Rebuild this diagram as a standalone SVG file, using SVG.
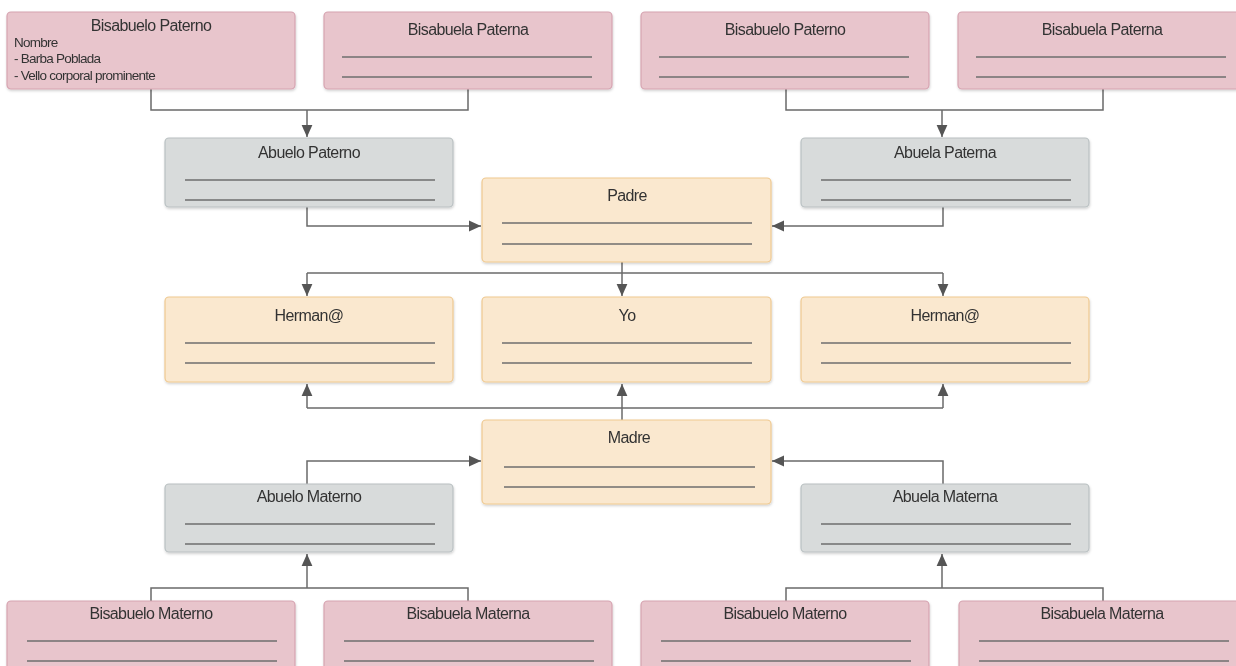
<svg xmlns="http://www.w3.org/2000/svg" width="1236" height="666" viewBox="0 0 1236 666">
<defs>
<style>
.pink{fill:#e8c5cc;stroke:#d6a3b0;stroke-width:1.2}
.gray{fill:#d8dbdb;stroke:#b9c0c2;stroke-width:1.2}
.peach{fill:#fae8cf;stroke:#efc990;stroke-width:1.2}
.t{font-family:"Liberation Sans",Arial,sans-serif;font-size:16px;fill:#333;text-anchor:middle;letter-spacing:-0.6px}
.s{font-family:"Liberation Sans",Arial,sans-serif;font-size:13.5px;fill:#333;letter-spacing:-0.75px}
.ln{stroke:#6e6e6e;stroke-width:1.3}
.c{fill:none;stroke:#6a6a6a;stroke-width:1.5}
</style>
<marker id="a" viewBox="0 0 10 10" refX="10" refY="5" markerWidth="12" markerHeight="12" markerUnits="userSpaceOnUse" orient="auto">
<path d="M0,0.5 L10,5 L0,9.5 z" fill="#555"/>
</marker>
<filter id="sh" x="-5%" y="-10%" width="110%" height="130%">
<feDropShadow dx="0.5" dy="1.5" stdDeviation="0.8" flood-color="#000" flood-opacity="0.18"/>
</filter>
</defs>
<rect width="1236" height="666" fill="#fff"/>

<g id="connectors">
<path class="c" d="M151,89 V110 H468 V89"/>
<path class="c" d="M307,110 V137" marker-end="url(#a)"/>
<path class="c" d="M786,89 V110 H1103 V89"/>
<path class="c" d="M942,110 V137" marker-end="url(#a)"/>
<path class="c" d="M307,207 V226 H481" marker-end="url(#a)"/>
<path class="c" d="M943,207 V226 H772" marker-end="url(#a)"/>
<path class="c" d="M622,262 V273"/>
<path class="c" d="M307,273 H943"/>
<path class="c" d="M307,273 V296" marker-end="url(#a)"/>
<path class="c" d="M622,273 V296" marker-end="url(#a)"/>
<path class="c" d="M943,273 V296" marker-end="url(#a)"/>
<path class="c" d="M307,408 H943"/>
<path class="c" d="M307,408 V384" marker-end="url(#a)"/>
<path class="c" d="M622,408 V384" marker-end="url(#a)"/>
<path class="c" d="M943,408 V384" marker-end="url(#a)"/>
<path class="c" d="M622,408 V420"/>
<path class="c" d="M307,484 V461 H481" marker-end="url(#a)"/>
<path class="c" d="M943,484 V461 H772" marker-end="url(#a)"/>
<path class="c" d="M151,601 V588 H468 V601"/>
<path class="c" d="M307,588 V554" marker-end="url(#a)"/>
<path class="c" d="M786,601 V588 H1103 V601"/>
<path class="c" d="M942,588 V554" marker-end="url(#a)"/>
</g>

<g id="bisabuelo-paterno-1" filter="url(#sh)">
<rect class="pink" x="7" y="12" width="288" height="77" rx="4"/>
<text class="t" x="151" y="31">Bisabuelo Paterno</text>
<text class="s" x="14" y="47">Nombre</text>
<text class="s" x="14" y="63">- Barba Poblada</text>
<text class="s" x="14" y="80">- Vello corporal prominente</text>
</g>
<g id="bisabuela-paterna-1" filter="url(#sh)">
<rect class="pink" x="324" y="12" width="288" height="77" rx="4"/>
<text class="t" x="468" y="35">Bisabuela Paterna</text>
<line class="ln" x1="342" y1="57" x2="592" y2="57"/>
<line class="ln" x1="342" y1="77" x2="592" y2="77"/>
</g>
<g id="bisabuelo-paterno-2" filter="url(#sh)">
<rect class="pink" x="641" y="12" width="288" height="77" rx="4"/>
<text class="t" x="785" y="35">Bisabuelo Paterno</text>
<line class="ln" x1="659" y1="57" x2="909" y2="57"/>
<line class="ln" x1="659" y1="77" x2="909" y2="77"/>
</g>
<g id="bisabuela-paterna-2" filter="url(#sh)">
<rect class="pink" x="958" y="12" width="282" height="77" rx="4"/>
<text class="t" x="1102" y="35">Bisabuela Paterna</text>
<line class="ln" x1="976" y1="57" x2="1226" y2="57"/>
<line class="ln" x1="976" y1="77" x2="1226" y2="77"/>
</g>

<g id="abuelo-paterno" filter="url(#sh)">
<rect class="gray" x="165" y="138" width="288" height="69" rx="4"/>
<text class="t" x="309" y="158">Abuelo Paterno</text>
<line class="ln" x1="185" y1="180" x2="435" y2="180"/>
<line class="ln" x1="185" y1="200" x2="435" y2="200"/>
</g>
<g id="abuela-paterna" filter="url(#sh)">
<rect class="gray" x="801" y="138" width="288" height="69" rx="4"/>
<text class="t" x="945" y="158">Abuela Paterna</text>
<line class="ln" x1="821" y1="180" x2="1071" y2="180"/>
<line class="ln" x1="821" y1="200" x2="1071" y2="200"/>
</g>

<g id="padre" filter="url(#sh)">
<rect class="peach" x="482" y="178" width="289" height="84" rx="4"/>
<text class="t" x="627" y="201">Padre</text>
<line class="ln" x1="502" y1="223" x2="752" y2="223"/>
<line class="ln" x1="502" y1="244" x2="752" y2="244"/>
</g>

<g id="hermano-1" filter="url(#sh)">
<rect class="peach" x="165" y="297" width="288" height="85" rx="4"/>
<text class="t" x="309" y="321">Herman@</text>
<line class="ln" x1="185" y1="343" x2="435" y2="343"/>
<line class="ln" x1="185" y1="363" x2="435" y2="363"/>
</g>
<g id="yo" filter="url(#sh)">
<rect class="peach" x="482" y="297" width="289" height="85" rx="4"/>
<text class="t" x="627" y="321">Yo</text>
<line class="ln" x1="502" y1="343" x2="752" y2="343"/>
<line class="ln" x1="502" y1="363" x2="752" y2="363"/>
</g>
<g id="hermano-2" filter="url(#sh)">
<rect class="peach" x="801" y="297" width="288" height="85" rx="4"/>
<text class="t" x="945" y="321">Herman@</text>
<line class="ln" x1="821" y1="343" x2="1071" y2="343"/>
<line class="ln" x1="821" y1="363" x2="1071" y2="363"/>
</g>

<g id="madre" filter="url(#sh)">
<rect class="peach" x="482" y="420" width="289" height="84" rx="4"/>
<text class="t" x="629" y="443">Madre</text>
<line class="ln" x1="504" y1="467" x2="755" y2="467"/>
<line class="ln" x1="504" y1="487" x2="755" y2="487"/>
</g>

<g id="abuelo-materno" filter="url(#sh)">
<rect class="gray" x="165" y="484" width="288" height="68" rx="4"/>
<text class="t" x="309" y="502">Abuelo Materno</text>
<line class="ln" x1="185" y1="524" x2="435" y2="524"/>
<line class="ln" x1="185" y1="544" x2="435" y2="544"/>
</g>
<g id="abuela-materna" filter="url(#sh)">
<rect class="gray" x="801" y="484" width="288" height="68" rx="4"/>
<text class="t" x="945" y="502">Abuela Materna</text>
<line class="ln" x1="821" y1="524" x2="1071" y2="524"/>
<line class="ln" x1="821" y1="544" x2="1071" y2="544"/>
</g>

<g id="bisabuelo-materno-1" filter="url(#sh)">
<rect class="pink" x="7" y="601" width="288" height="75" rx="4"/>
<text class="t" x="151" y="619">Bisabuelo Materno</text>
<line class="ln" x1="27" y1="641" x2="277" y2="641"/>
<line class="ln" x1="27" y1="661" x2="277" y2="661"/>
</g>
<g id="bisabuela-materna-1" filter="url(#sh)">
<rect class="pink" x="324" y="601" width="288" height="75" rx="4"/>
<text class="t" x="468" y="619">Bisabuela Materna</text>
<line class="ln" x1="344" y1="641" x2="594" y2="641"/>
<line class="ln" x1="344" y1="661" x2="594" y2="661"/>
</g>
<g id="bisabuelo-materno-2" filter="url(#sh)">
<rect class="pink" x="641" y="601" width="288" height="75" rx="4"/>
<text class="t" x="785" y="619">Bisabuelo Materno</text>
<line class="ln" x1="661" y1="641" x2="911" y2="641"/>
<line class="ln" x1="661" y1="661" x2="911" y2="661"/>
</g>
<g id="bisabuela-materna-2" filter="url(#sh)">
<rect class="pink" x="959" y="601" width="281" height="75" rx="4"/>
<text class="t" x="1102" y="619">Bisabuela Materna</text>
<line class="ln" x1="979" y1="641" x2="1229" y2="641"/>
<line class="ln" x1="979" y1="661" x2="1229" y2="661"/>
</g>
</svg>
